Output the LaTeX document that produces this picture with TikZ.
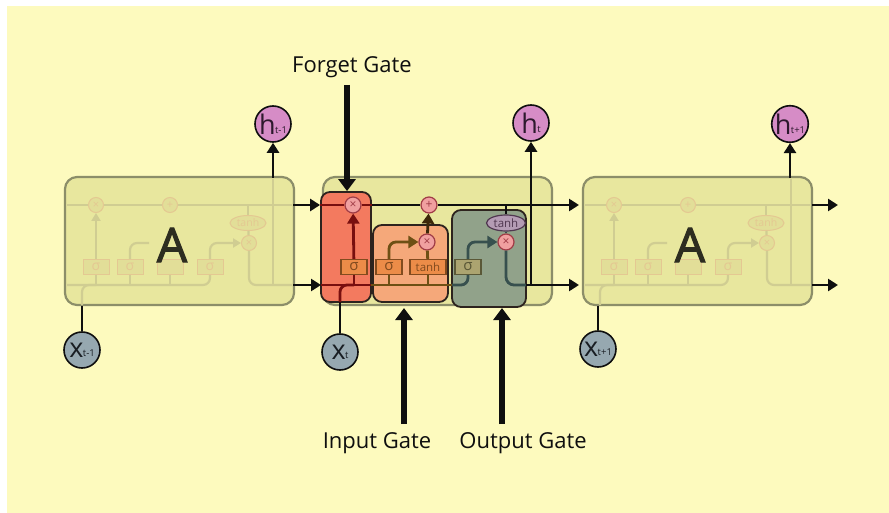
\documentclass[tikz,border=0pt]{standalone}
\usepackage{fontspec}
\setmainfont{Open Sans}
\newfontfamily\Afont[FakeBold=2.2]{Open Sans}
\usetikzlibrary{arrows.meta,shapes.geometric,calc}
\definecolor{bg}{RGB}{253,250,190}
\definecolor{cellfill}{RGB}{232,231,158}
\definecolor{cellborder}{RGB}{140,142,105}
\definecolor{paleline}{RGB}{208,205,146}
\definecolor{palebox}{RGB}{226,222,152}
\definecolor{paleorange}{RGB}{228,200,146}
\definecolor{redfill}{RGB}{243,122,95}
\definecolor{orangefill}{RGB}{245,168,122}
\definecolor{greenfill}{RGB}{145,162,138}
\definecolor{gateborder}{RGB}{45,35,30}
\definecolor{redline}{RGB}{120,15,15}
\definecolor{brownline}{RGB}{110,80,20}
\definecolor{darkbrown}{RGB}{60,40,10}
\definecolor{slateline}{RGB}{55,80,78}
\definecolor{sigfill}{RGB}{236,140,72}
\definecolor{sigborder}{RGB}{130,75,30}
\definecolor{sigofill}{RGB}{172,164,112}
\definecolor{sigoborder}{RGB}{90,88,55}
\definecolor{opfill}{RGB}{240,160,160}
\definecolor{opborder}{RGB}{160,60,70}
\definecolor{tanhfill}{RGB}{180,155,180}
\definecolor{tanhborder}{RGB}{80,55,80}
\definecolor{hfill}{RGB}{214,140,198}
\definecolor{htext}{RGB}{45,25,45}
\definecolor{xfill}{RGB}{150,168,176}
\definecolor{xtext}{RGB}{25,30,35}
\definecolor{ink}{RGB}{15,15,15}
\definecolor{Acol}{RGB}{45,45,32}
\tikzset{
  cellbox/.style={draw=cellborder, line width=2.2pt, fill=cellfill, rounded corners=12pt,
    minimum width=229pt, minimum height=128pt, inner sep=0pt},
  gatebox/.style={draw=gateborder, line width=1.8pt, rounded corners=9pt, inner sep=0pt},
  mainline/.style={line width=2.8pt},
  arr/.style={-{Triangle[width=12pt,length=10pt]}},
  palearr/.style={-{Triangle[width=9pt,length=8pt]}},
  gatearr/.style={line width=6pt, ink, -{Triangle[width=17pt,length=12pt]}},
  op/.style={circle, draw=opborder, fill=opfill, line width=1.2pt, minimum size=16pt,
    inner sep=0pt, text=opborder, font=\fontsize{12}{12}\selectfont},
  sig/.style={draw=sigborder, fill=sigfill, line width=1.2pt, minimum width=26pt,
    minimum height=15pt, inner sep=0pt, text=sigborder, font=\fontsize{15}{15}\selectfont},
  tanhell/.style={ellipse, draw=tanhborder, fill=tanhfill, line width=1.2pt, minimum width=39pt,
    minimum height=16pt, inner sep=0pt, text=tanhborder, font=\fontsize{11.5}{11.5}\selectfont},
  paleln/.style={paleline, line width=2.2pt},
  paleop/.style={circle, draw=paleorange, fill=palebox, line width=1pt, minimum size=15pt,
    inner sep=0pt, text=paleorange, font=\fontsize{11}{11}\selectfont},
  palesig/.style={draw=paleorange, fill=palebox, line width=1pt, minimum width=26pt,
    minimum height=15pt, inner sep=0pt, text=paleorange, font=\fontsize{14}{14}\selectfont},
  paletanh/.style={ellipse, draw=paleorange, fill=palebox, line width=1pt, minimum width=36pt,
    minimum height=15pt, inner sep=0pt, text=paleorange, font=\fontsize{10.5}{10.5}\selectfont},
  bigA/.style={text=Acol, font=\Afont\fontsize{48}{48}\selectfont},
  hcirc/.style={circle, draw=ink, line width=1.6pt, fill=hfill, minimum size=36pt, inner sep=0pt, text=htext},
  xcirc/.style={circle, draw=ink, line width=1.6pt, fill=xfill, minimum size=36pt, inner sep=0pt, text=xtext},
  gatelabel/.style={text=ink, font=\fontsize{22}{22}\selectfont}
}
\newcommand\circlab[2]{{\fontsize{27}{27}\selectfont #1}\kern-0.5pt\raisebox{1pt}{\fontsize{9.5}{9.5}\selectfont #2}}
\newcommand\lstmside[2]{%
\begin{scope}[shift={(#1,0)}]
  \node[cellbox] (#2box) at (114.5,241) {};
  \coordinate (#2tl) at (2,205);
  \coordinate (#2tr) at (227,205);
  \coordinate (#2bl) at (2,285);
  \coordinate (#2br) at (227,285);
  \coordinate (#2hb) at (208,285);
  \coordinate (#2ht) at (208,179);
  \coordinate (#2xb) at (17,305);
  \coordinate (#2s2e) at (84,243);
  \node[paleop] (#2fx) at (31,205) {×};
  \node[paleop] (#2ax) at (105,205) {+};
  \node[paletanh] (#2th) at (183,223) {tanh};
  \node[paleop] (#2ox) at (184,243) {×};
  \node[palesig] (#2s1) at (31,267) {σ};
  \node[palesig] (#2s2) at (65,267) {σ};
  \node[palesig] (#2s3) at (105,267) {};
  \node[palesig] (#2s4) at (145,267) {σ};
  \draw[paleln] (#2tl) -- (#2fx);
  \draw[paleln] (#2fx) -- (#2ax);
  \draw[paleln] (#2ax) -- (#2tr);
  \draw[paleln, rounded corners=7pt] (#2bl) -| (#2s4);
  \draw[paleln] (#2s1) -- (#2s1 |- #2bl);
  \draw[paleln] (#2s2) -- (#2s2 |- #2bl);
  \draw[paleln] (#2s3) -- (#2s3 |- #2bl);
  \draw[paleln, palearr] (#2s1) -- (#2fx);
  \draw[paleln, rounded corners=7pt] (#2s2.north) |- (#2s2e);
  \draw[paleln, palearr, rounded corners=7pt] (#2s4.north) |- (#2ox);
  \draw[paleln] (#2th |- #2tl) -- (#2th);
  \draw[paleln] (#2th) -- (#2ox);
  \draw[paleln, rounded corners=7pt] (#2ox) |- (#2br);
  \draw[paleln] (#2hb) -- (#2ht);
  \draw[paleln, rounded corners=7pt] (#2xb) |- (#2s1 |- #2bl);
  \node[bigA] (#2A) at (107,245) {A};
\end{scope}}
\begin{document}
\begin{tikzpicture}[x=1pt,y=-1pt]
\useasboundingbox (0,0) rectangle (889,513);
\fill[bg] (7,6) rectangle (889,513);

% ---------- side cells ----------
\lstmside{65}{L}
\lstmside{583}{R}

% ---------- middle cell ----------
\node[cellbox] (mbox) at (437.5,241) {};
\node[gatebox, fill=redfill, minimum width=50pt, minimum height=110pt] (fbox) at (346,247) {};
\node[gatebox, fill=orangefill, minimum width=75pt, minimum height=77pt] (ibox) at (410.5,263.5) {};
\node[gatebox, fill=greenfill, minimum width=74pt, minimum height=97pt] (obox) at (489,258.5) {};

\node[op] (fx) at (353,205) {×};
\node[op] (ax) at (429,205) {+};
\node[op] (ix) at (427,242) {×};
\node[tanhell] (te) at (506,223) {tanh};
\node[op] (ox) at (506,242) {×};
\node[sig] (sf) at (354,267) {σ};
\node[sig] (si) at (389,267) {σ};
\node[sig, minimum width=36pt, font=\fontsize{11.5}{11.5}\selectfont] (st) at (428,267) {tanh};
\node[sig, fill=sigofill, draw=sigoborder, text=sigoborder] (so) at (468,267) {σ};

% circles
\node[hcirc] (hL) at (273,124) {\circlab{h}{t-1}};
\node[hcirc] (hT) at (531,123) {\circlab{h}{t}};
\node[hcirc] (hR) at (790,124) {\circlab{h}{t+1}};
\node[xcirc] (xL) at (82,350) {\circlab{x}{t-1}};
\node[xcirc] (xT) at (340,352) {\circlab{x}{t}};
\node[xcirc] (xR) at (598,349) {\circlab{x}{t+1}};

% coordinates
\coordinate (lt) at (293,205);
\coordinate (lb) at (293,285);
\coordinate (fbw) at (321,285);
\coordinate (fbe) at (371,285);
\coordinate (ibe) at (452,285);
\coordinate (obe) at (526,285);
\coordinate (rt) at (579,205);
\coordinate (rb) at (579,285);
\coordinate (hj) at (531,285);
\coordinate (xtb) at (340,302);
\coordinate (Lht) at (273,178);
\coordinate (Lxb) at (82,306);
\coordinate (Rht) at (790,178);
\coordinate (Rxb) at (598,306);
\coordinate (Rot) at (812,205);
\coordinate (Rob) at (812,285);
\coordinate (Rat) at (838,205);
\coordinate (Rab) at (838,285);

% cell state line
\draw[mainline, ink, arr] (lt) -- (fbox.west |- lt);
\draw[mainline, redline] (fbox.west |- lt) -- (fx);
\draw[mainline, redline] (fx) -- (fbox.east |- lt);
\draw[mainline, ink] (fbox.east |- lt) -- (ax);
\draw[mainline, ink, arr] (ax) -- (rt);
\draw[mainline, ink] (te |- lt) -- (te);
\draw[mainline, slateline] (te) -- (ox);

% hidden line
\draw[mainline, ink, arr] (lb) -- (fbw);
\draw[mainline, redline] (fbw) -- (fbe);
\draw[mainline, brownline] (fbe) -- (ibe);
\draw[mainline, slateline, rounded corners=7pt] (ibe) -| (so);
\draw[mainline, slateline, rounded corners=8pt] (ox) |- (obe);
\draw[mainline, ink, arr] (obe) -- (rb);
\draw[mainline, ink, arr] (hj) -- (hT);

% gate internals
\draw[mainline, redline] (sf) -- (sf |- fbw);
\draw[mainline, redline, arr] (sf) -- (fx);
\draw[mainline, brownline] (si) -- (si |- fbw);
\draw[mainline, brownline, arr, rounded corners=7pt] (si.north) |- (ix);
\draw[mainline, brownline] (st) -- (st |- fbw);
\draw[mainline, brownline] (st) -- (ix);
\draw[mainline, darkbrown, arr] (ix) -- (ax);
\draw[mainline, slateline, arr, rounded corners=7pt] (so.north) |- (ox);

% input x_t
\draw[mainline, ink] (xT) -- (xtb);
\draw[mainline, redline, rounded corners=7pt] (xtb) |- (sf |- fbw);

% side cell outer connectors
\draw[mainline, ink, arr] (Lht) -- (hL);
\draw[mainline, ink] (xL) -- (Lxb);
\draw[mainline, ink, arr] (Rht) -- (hR);
\draw[mainline, ink] (xR) -- (Rxb);
\draw[mainline, ink, arr] (Rot) -- (Rat);
\draw[mainline, ink, arr] (Rob) -- (Rab);

% gate labels and arrows
\node[gatelabel] (fgl) at (352,67) {Forget Gate};
\node[gatelabel] (igl) at (377,443) {Input Gate};
\node[gatelabel] (ogl) at (523,443) {Output Gate};
\coordinate (fga) at (347,85);
\coordinate (iga) at (404,424);
\coordinate (igt) at (404,308);
\coordinate (oga) at (502,424);
\coordinate (ogt) at (502,308);
\draw[gatearr] (fga) -- (fga |- fbox.north);
\draw[gatearr] (iga) -- (igt);
\draw[gatearr] (oga) -- (ogt);
\end{tikzpicture}
\end{document}
